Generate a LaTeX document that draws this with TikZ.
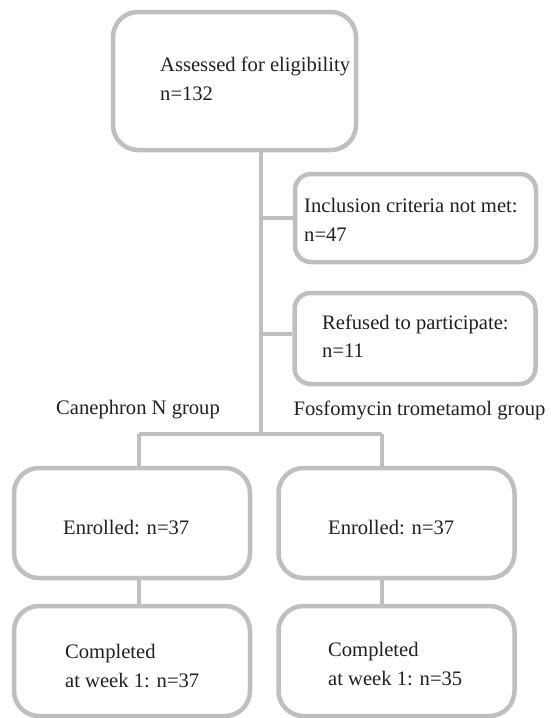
\documentclass[tikz,border=0pt]{standalone}
\usepackage{fontspec}
\setmainfont{Liberation Serif}
\usetikzlibrary{positioning}

\definecolor{boxgray}{RGB}{190,191,193}
\definecolor{inkgray}{RGB}{35,31,32}

\tikzset{
    flowbox/.style={draw=boxgray, line width=4.5pt, rounded corners=25pt, fill=white},
    smallbox/.style={flowbox, rounded corners=16pt},
    link/.style={draw=boxgray, line width=4.5pt},
    txt/.style={text=inkgray, font=\fontsize{20.6}{28.5}\selectfont, align=left, anchor=west, inner sep=0pt}
}

\begin{document}
\begin{tikzpicture}[x=1pt, y=-1pt]
    \useasboundingbox (0,0) rectangle (550,718);

    % boxes
    \node[flowbox, minimum width=243pt, minimum height=138pt] (screen) at (234.5,81) {};
    \node[smallbox, minimum width=241pt, minimum height=88pt] (incl) at (415.5,218) {};
    \node[smallbox, minimum width=241pt, minimum height=91pt] (refused) at (415,338.5) {};
    \node[flowbox, minimum width=236pt, minimum height=110pt] (enrolA) at (132,523) {};
    \node[flowbox, minimum width=236pt, minimum height=110pt] (enrolB) at (396.5,523) {};
    \node[flowbox, minimum width=236pt, minimum height=110pt] (compA) at (132,661) {};
    \node[flowbox, minimum width=236pt, minimum height=110pt] (compB) at (396.5,661) {};

    % texts
    \node[txt] (screentxt) at (160,79) {Assessed for eligibility\\n=132};
    \node[txt] (incltxt) at (304,220) {Inclusion criteria not met:\\n=47};
    \node[txt] (refusedtxt) at (322,336) {Refused to participate:\\n=11};
    \node[txt, anchor=center] (groupA) at (138,410) {Canephron N group};
    \node[txt, anchor=center] (groupB) at (419.5,410) {Fosfomycin trometamol group};
    \node[txt] (enrolAtxt) at (63,527) {Enrolled: n=37};
    \node[txt] (enrolBtxt) at (328,527) {Enrolled: n=37};
    \node[txt] (compAtxt) at (65,666) {Completed\\at week 1: n=37};
    \node[txt] (compBtxt) at (328,664) {Completed\\at week 1: n=35};

    % connectors
    \coordinate (split) at (261,434);
    \coordinate (brA) at (139,434);
    \coordinate (brB) at (382,434);
    \coordinate (exclA) at (261,218);
    \coordinate (exclB) at (261,334);
    \draw[link] (split |- screen.south) -- (split);
    \draw[link] (exclA) -- (exclA -| incl.west);
    \draw[link] (exclB) -- (exclB -| refused.west);
    \draw[link] (brA) -- (brB);
    \draw[link] (brA) -- (brA |- enrolA.north);
    \draw[link] (brB) -- (brB |- enrolB.north);
    \draw[link] (enrolA.south -| brA) -- (compA.north -| brA);
    \draw[link] (enrolB.south -| brB) -- (compB.north -| brB);
\end{tikzpicture}
\end{document}
